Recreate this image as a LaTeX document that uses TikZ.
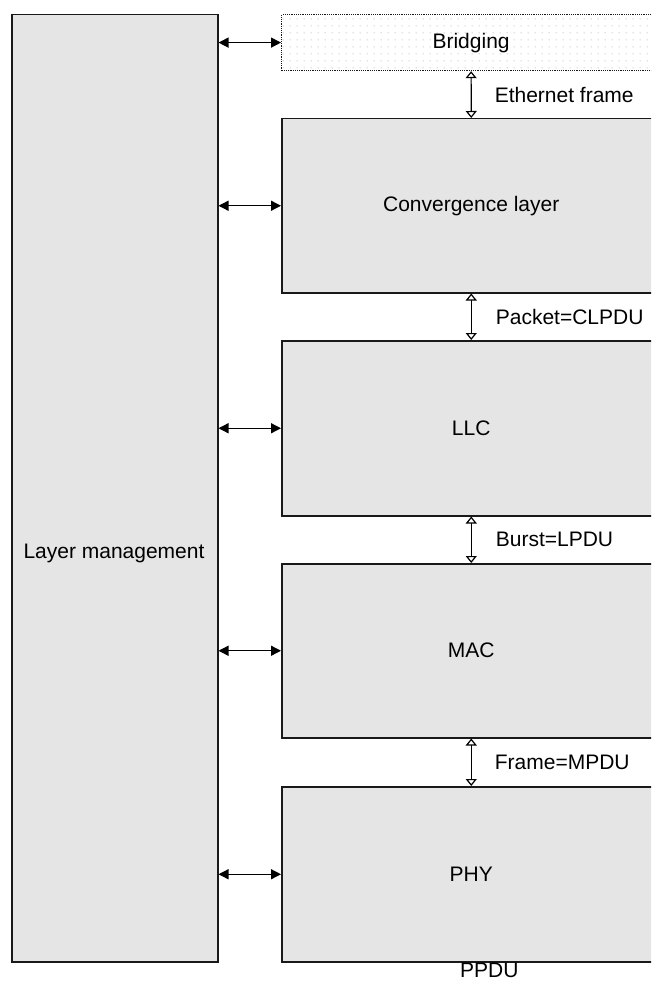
\documentclass[tikz,border=0pt]{standalone}
\usepackage{fontspec}
\setmainfont{Liberation Sans}
\usetikzlibrary{arrows.meta,patterns.meta}
\definecolor{boxgray}{RGB}{229,229,229}
\definecolor{dotgray}{RGB}{195,195,195}
\tikzdeclarepattern{name=mydots,type=uncolored,bounding box={(0,0) and (7pt,7pt)},tile size={(7pt,7pt)},code={\fill (3.5pt,3.5pt) circle (0.75pt);}}
\begin{document}
\begin{tikzpicture}[x=1pt,y=-1pt,
  font=\fontsize{21}{24}\selectfont,
  layerbox/.style={draw=black!90,line width=1.5pt,fill=boxgray,minimum width=379pt,inner sep=0pt,anchor=north west},
  hlink/.style={line width=1.3pt,{Triangle[length=10pt,width=10pt]}-{Triangle[length=10pt,width=10pt]}},
  vlink/.style={line width=1.2pt,{Triangle[open,length=7pt,width=11pt]}-{Triangle[open,length=7pt,width=11pt]}},
  lbl/.style={anchor=west,inner sep=0pt}]
\useasboundingbox (0,0) rectangle (651,981);
\clip (0,0) rectangle (651,981);
\fill[white] (0,0) rectangle (651,981);
% left box
\node[draw=black!90,line width=1.5pt,fill=boxgray,minimum width=206pt,minimum height=947pt,inner sep=0pt,anchor=north west] (lm) at (11,14) {};
\node (lmt) at (114,553) {Layer management};
% bridging
\node[draw=black!90,densely dotted,line width=1.2pt,pattern={mydots},pattern color=dotgray,minimum width=379pt,minimum height=56pt,inner sep=0pt,anchor=north west] (br) at (281,14) {};
\node (brt) at (br.center) {Bridging};
% layers
\node[layerbox,minimum height=174pt] (cl) at (281,118) {Convergence layer};
\node[layerbox,minimum height=175pt] (llc) at (281,340) {LLC};
\node[layerbox,minimum height=174pt] (mac) at (281,563) {MAC};
\node[layerbox,minimum height=175pt] (phy) at (281,786) {PHY};
% horizontal links
\draw[hlink] (br.west -| lm.east) -- (br.west);
\draw[hlink] (cl.west -| lm.east) -- (cl.west);
\draw[hlink] (llc.west -| lm.east) -- (llc.west);
\draw[hlink] (mac.west -| lm.east) -- (mac.west);
\draw[hlink] (phy.west -| lm.east) -- (phy.west);
% vertical links
\draw[vlink] (br.south) -- (cl.north) node[midway,lbl,xshift=23pt] (l1) {Ethernet frame};
\draw[vlink] (cl.south) -- (llc.north) node[midway,lbl,xshift=24pt] (l2) {Packet=CLPDU};
\draw[vlink] (llc.south) -- (mac.north) node[midway,lbl,xshift=24pt] (l3) {Burst=LPDU};
\draw[vlink] (mac.south) -- (phy.north) node[midway,lbl,xshift=23pt] (l4) {Frame=MPDU};
\node[anchor=north,inner sep=0pt,yshift=0pt,xshift=18pt] (pp) at (phy.south) {PPDU};
\end{tikzpicture}
\end{document}
